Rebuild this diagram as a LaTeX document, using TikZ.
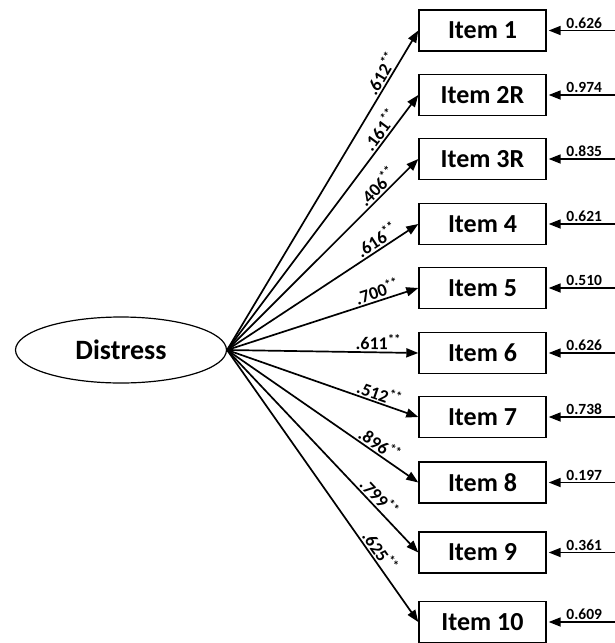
\documentclass[tikz,border=0pt]{standalone}
\usepackage{fontspec}
\setmainfont{Carlito}
\usetikzlibrary{shapes.geometric,arrows.meta}

\begin{document}
\begin{tikzpicture}[x=1pt, y=-1pt,
	item/.style={rectangle, draw, line width=1.4pt, minimum width=127pt, minimum height=41pt, font=\fontsize{26}{26}\selectfont\bfseries},
	factor/.style={ellipse, draw, line width=1.2pt, minimum width=211pt, minimum height=66pt, font=\fontsize{28}{28}\selectfont\bfseries},
	load/.style={line width=1.7pt, -{Triangle[length=12pt,width=9pt]}},
	coef/.style={sloped, above, inner sep=1.5pt, font=\fontsize{18}{18}\selectfont\bfseries},
	err/.style={above, pos=0.45, inner sep=1.5pt, font=\fontsize{15.5}{15.5}\selectfont\bfseries}]
			\useasboundingbox (0, 0) rectangle (615, 643);
			\draw (121, 350) node [factor] (d) {Distress};
			\draw (482.5, 30.5) node [item] (i1) {Item 1};
			\draw (482.5, 95) node [item] (i2) {Item 2R};
			\draw (482.5, 159) node [item] (i3) {Item 3R};
			\draw (482.5, 224) node [item] (i4) {Item 4};
			\draw (482.5, 288) node [item] (i5) {Item 5};
			\draw (482.5, 353) node [item] (i6) {Item 6};
			\draw (482.5, 417) node [item] (i7) {Item 7};
			\draw (482.5, 482.5) node [item] (i8) {Item 8};
			\draw (482.5, 552.5) node [item] (i9) {Item 9};
			\draw (482.5, 622) node [item] (i10) {Item 10};
			\path [load] (d.east) edge node [coef, pos=0.85] {.612\textsuperscript{**}} (i1.west);
			\path [load] (d.east) edge node [coef, pos=0.84] {.161\textsuperscript{**}} (i2.west);
			\path [load] (d.east) edge node [coef, pos=0.82] {.406\textsuperscript{**}} (i3.west);
			\path [load] (d.east) edge node [coef, pos=0.81] {.616\textsuperscript{**}} (i4.west);
			\path [load] (d.east) edge node [coef, pos=0.80] {.700\textsuperscript{**}} (i5.west);
			\path [load] (d.east) edge node [coef, pos=0.79] {.611\textsuperscript{**}} (i6.west);
			\path [load] (d.east) edge node [coef, pos=0.78] {.512\textsuperscript{**}} (i7.west);
			\path [load] (d.east) edge node [coef, pos=0.77] {.896\textsuperscript{**}} (i8.west);
			\path [load] (d.east) edge node [coef, pos=0.76] {.799\textsuperscript{**}} (i9.west);
			\path [load] (d.east) edge node [coef, pos=0.76] {.625\textsuperscript{**}} (i10.west);
			\coordinate (e1) at (615, 30.5);
			\coordinate (e2) at (615, 95);
			\coordinate (e3) at (615, 159);
			\coordinate (e4) at (615, 224);
			\coordinate (e5) at (615, 288);
			\coordinate (e6) at (615, 353);
			\coordinate (e7) at (615, 417);
			\coordinate (e8) at (615, 482.5);
			\coordinate (e9) at (615, 552.5);
			\coordinate (e10) at (615, 622);
			\path [load, shorten >=2pt] (e1) edge node [err] {0.626} (i1.east);
			\path [load, shorten >=2pt] (e2) edge node [err] {0.974} (i2.east);
			\path [load, shorten >=2pt] (e3) edge node [err] {0.835} (i3.east);
			\path [load, shorten >=2pt] (e4) edge node [err] {0.621} (i4.east);
			\path [load, shorten >=2pt] (e5) edge node [err] {0.510} (i5.east);
			\path [load, shorten >=2pt] (e6) edge node [err] {0.626} (i6.east);
			\path [load, shorten >=2pt] (e7) edge node [err] {0.738} (i7.east);
			\path [load, shorten >=2pt] (e8) edge node [err] {0.197} (i8.east);
			\path [load, shorten >=2pt] (e9) edge node [err] {0.361} (i9.east);
			\path [load, shorten >=2pt] (e10) edge node [err] {0.609} (i10.east);
		\end{tikzpicture}
\end{document}
